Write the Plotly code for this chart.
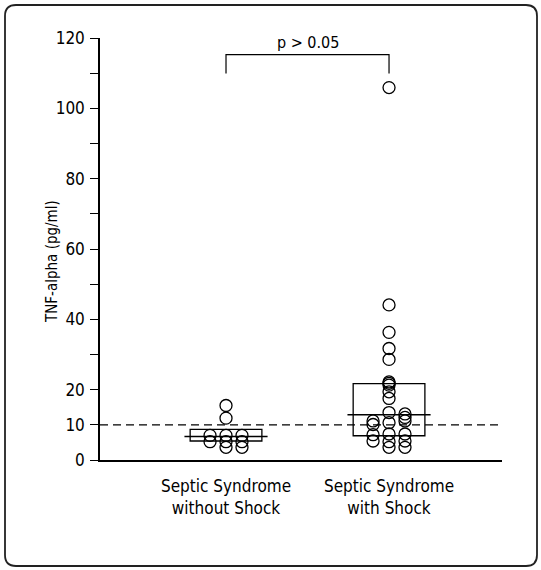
import plotly.graph_objects as go

# ---- data ----
categories = ["Septic Syndrome<br>without Shock", "Septic Syndrome<br>with Shock"]
cat_pos = [1, 2]
# columns of dots per group (left / middle / right)
g1_left = [7.0, 5.2]
g1_mid = [15.5, 11.9, 7.0, 5.2, 3.6]
g1_right = [7.0, 5.2, 3.6]
g2_left = [11.1, 10.1, 7.2, 5.4]
g2_mid = [105.9, 44.1, 36.3, 31.7, 28.6, 22.2, 21.8, 21.3, 19.4, 17.5, 13.5, 10.6, 7.4, 5.2, 3.6]
g2_right = [13.1, 12.1, 11.1, 7.4, 5.4, 3.6]
box_low = [5.4, 6.9]
box_high = [8.7, 21.7]
medians = [6.7, 12.9]
threshold = 10
p_text = "p > 0.05"
y_title = "TNF-alpha (pg/ml)"
y_tickvals = [0, 10, 20, 30, 40, 50, 60, 70, 80, 90, 100, 110, 120]
y_ticktext = ["0", "10", "20", "", "40", "", "60", "", "80", "", "100", "", "120"]

FONT = "Liberation Sans Narrow, DejaVu Sans Condensed, Liberation Sans, Arial, sans-serif"
off = 0.098
box_hw = 0.22
med_hw = 0.255

fig = go.Figure()

cols = [(g1_left, g1_mid, g1_right), (g2_left, g2_mid, g2_right)]
for pos, (l, m, r) in zip(cat_pos, cols):
    xs = [pos - off] * len(l) + [pos] * len(m) + [pos + off] * len(r)
    ys = l + m + r
    fig.add_trace(go.Scatter(
        x=xs, y=ys, mode="markers",
        marker=dict(symbol="circle-open", size=12, color="black", line=dict(width=1.3, color="black")),
        showlegend=False, hoverinfo="y"))

shapes = []
for pos, lo, hi, med in zip(cat_pos, box_low, box_high, medians):
    shapes.append(dict(type="rect", xref="x", yref="y", x0=pos - box_hw, x1=pos + box_hw,
                       y0=lo, y1=hi, line=dict(color="black", width=1.3)))
    shapes.append(dict(type="line", xref="x", yref="y", x0=pos - med_hw, x1=pos + med_hw,
                       y0=med, y1=med, line=dict(color="black", width=1.5)))

# threshold dashed line
shapes.append(dict(type="line", xref="paper", yref="y", x0=0, x1=1, y0=threshold, y1=threshold,
                   line=dict(color="black", width=1.2, dash="8px,5px")))

# significance bracket
b_top, b_bot = 115.3, 109.9
shapes.append(dict(type="path", xref="x", yref="y",
                   path=f"M {cat_pos[0]},{b_bot} L {cat_pos[0]},{b_top} L {cat_pos[1]},{b_top} L {cat_pos[1]},{b_bot}",
                   line=dict(color="black", width=1.2)))

# rounded frame in paper coords
W, H = 541, 570
L, R, T, B = 100, 39, 38, 110
pw, ph = W - L - R, H - T - B
def px(x): return (x - L) / pw
def py(y): return (H - B - y) / ph
x0p, x1p, y0p, y1p = 5, 537, 5, 566
r = 11
path = (f"M {px(x0p + r)},{py(y0p)} L {px(x1p - r)},{py(y0p)} "
        f"Q {px(x1p)},{py(y0p)} {px(x1p)},{py(y0p + r)} "
        f"L {px(x1p)},{py(y1p - r)} Q {px(x1p)},{py(y1p)} {px(x1p - r)},{py(y1p)} "
        f"L {px(x0p + r)},{py(y1p)} Q {px(x0p)},{py(y1p)} {px(x0p)},{py(y1p - r)} "
        f"L {px(x0p)},{py(y0p + r)} Q {px(x0p)},{py(y0p)} {px(x0p + r)},{py(y0p)} Z")
shapes.append(dict(type="path", xref="paper", yref="paper", path=path,
                   line=dict(color="#222222", width=1.8)))

fig.update_layout(
    width=W, height=H,
    margin=dict(l=L, r=R, t=T, b=B),
    paper_bgcolor="white", plot_bgcolor="white",
    font=dict(family=FONT, size=16, color="black"),
    shapes=shapes,
    annotations=[
        dict(x=(cat_pos[0] + cat_pos[1]) / 2, y=b_top, xref="x", yref="y",
             text=p_text, showarrow=False, yanchor="bottom", yshift=1,
             font=dict(family=FONT, size=16, color="black")),
        dict(x=px(52), y=py(262), xref="paper", yref="paper", text=y_title,
             textangle=-90, showarrow=False, xanchor="center", yanchor="middle",
             font=dict(family=FONT, size=15, color="black")),
    ],
    xaxis=dict(range=[0.227, 2.693], tickvals=cat_pos, ticktext=categories,
               showgrid=False, zeroline=False, showline=True, linecolor="black", linewidth=1.5,
               ticks="", tickfont=dict(family=FONT, size=17), ticklabelstandoff=10),
    yaxis=dict(range=[0, 120], tickvals=y_tickvals, ticktext=y_ticktext,
               showgrid=False, zeroline=False, showline=True, linecolor="black", linewidth=1.5,
               ticks="outside", ticklen=8, tickwidth=1.3, tickcolor="black",
               tickfont=dict(family=FONT, size=17), ticklabelstandoff=2),
)

fig.write_html("out.html")
